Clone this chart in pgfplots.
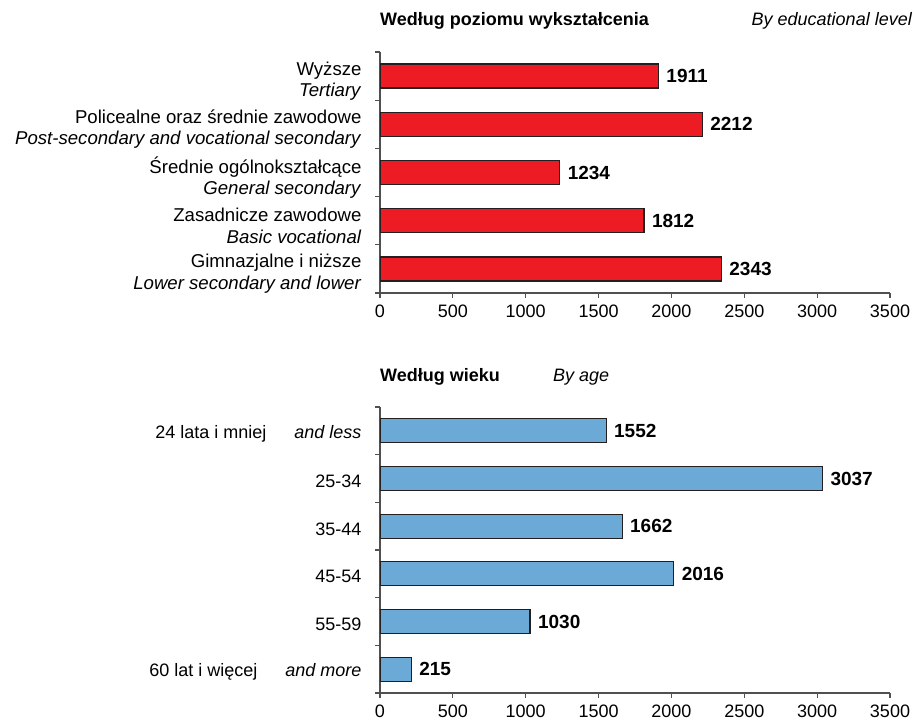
\documentclass[border=0pt]{standalone}
\usepackage{pgfplots}
\pgfplotsset{compat=1.18}
\usepackage{fontspec}
\setmainfont{Liberation Sans}
\definecolor{barred}{HTML}{ED1C24}
\definecolor{barblue}{HTML}{6BAAD6}
\definecolor{axgray}{HTML}{505050}
\definecolor{edge}{HTML}{231F20}
\pgfplotsset{
  mystyle/.style={
    scale only axis, width=510pt, anchor=north west,
    xmin=0, xmax=3500, xtick={0,500,...,3500},
    axis x line*=bottom, axis y line*=left,
    axis line style={axgray, line width=1.2pt},
    tick style={axgray, line width=1.2pt},
    tick align=outside,
    major tick length=5pt,
    y dir=reverse,
    xbar, bar width=24pt, bar shift=0pt,
    /pgf/number format/assume math mode=true,
    /pgf/number format/1000 sep={},
    tick label style={font=\fontsize{18}{20}\selectfont, text=black},
    x tick label style={yshift=-6pt, inner sep=1pt},
    yticklabels={},
    y tick label style={align=right},
    nodes near coords,
    point meta=x,
    nodes near coords style={font=\bfseries\fontsize{19}{20}\selectfont, anchor=west, xshift=4pt, text=black},
  }
}
\begin{document}
\begin{tikzpicture}
\useasboundingbox (0,0) rectangle (917pt,-725pt);
\node[anchor=base west, font=\bfseries\fontsize{18}{20}\selectfont, inner sep=0pt] at (380pt,-26pt) {Według poziomu wykształcenia};
\node[anchor=base east, font=\itshape\fontsize{18}{20}\selectfont, inner sep=0pt] at (912pt,-26pt) {By educational level};
\node[anchor=base west, font=\bfseries\fontsize{18}{20}\selectfont, inner sep=0pt] at (380pt,-381pt) {Według wieku};
\node[anchor=base west, font=\itshape\fontsize{18}{20}\selectfont, inner sep=0pt] at (553pt,-381pt) {By age};

\begin{axis}[mystyle, at={(380pt,-52pt)}, height=241pt,
  ymin=-0.5, ymax=4.5, ytick={-0.5,0.5,...,4.5},
  extra y ticks={0,1,2,3,4},
  extra y tick style={major tick length=0pt, tick label style={xshift=-15pt, yshift=-5pt, font=\fontsize{18.6}{21.5}\selectfont}},
  extra y tick labels={{Wyższe\\\textit{Tertiary}},
    {Policealne oraz średnie zawodowe\\\textit{Post-secondary and vocational secondary}},
    {Średnie ogólnokształcące\\\textit{General secondary}},
    {Zasadnicze zawodowe\\\textit{Basic vocational}},
    {Gimnazjalne i niższe\\\textit{Lower secondary and lower}}},
]
\addplot[fill=barred, draw=edge, line width=1.3pt] coordinates {(1911,0) (2212,1) (1234,2) (1812,3) (2343,4)};
\end{axis}

\begin{axis}[mystyle, at={(380pt,-407pt)}, height=286pt,
  ymin=-0.5, ymax=5.5, ytick={-0.5,0.5,...,5.5},
  extra y ticks={0,1,2,3,4,5},
  extra y tick style={major tick length=0pt, tick label style={xshift=-15pt, yshift=-3pt}},
  extra y tick labels={{24 lata i mniej\hspace{28pt}\textit{and less}},
    {25-34},{35-44},{45-54},{55-59},
    {60 lat i więcej\hspace{28pt}\textit{and more}}},
]
\addplot[fill=barblue, draw=edge, line width=1.3pt] coordinates {(1552,0) (3037,1) (1662,2) (2016,3) (1030,4) (215,5)};
\end{axis}
\end{tikzpicture}
\end{document}
